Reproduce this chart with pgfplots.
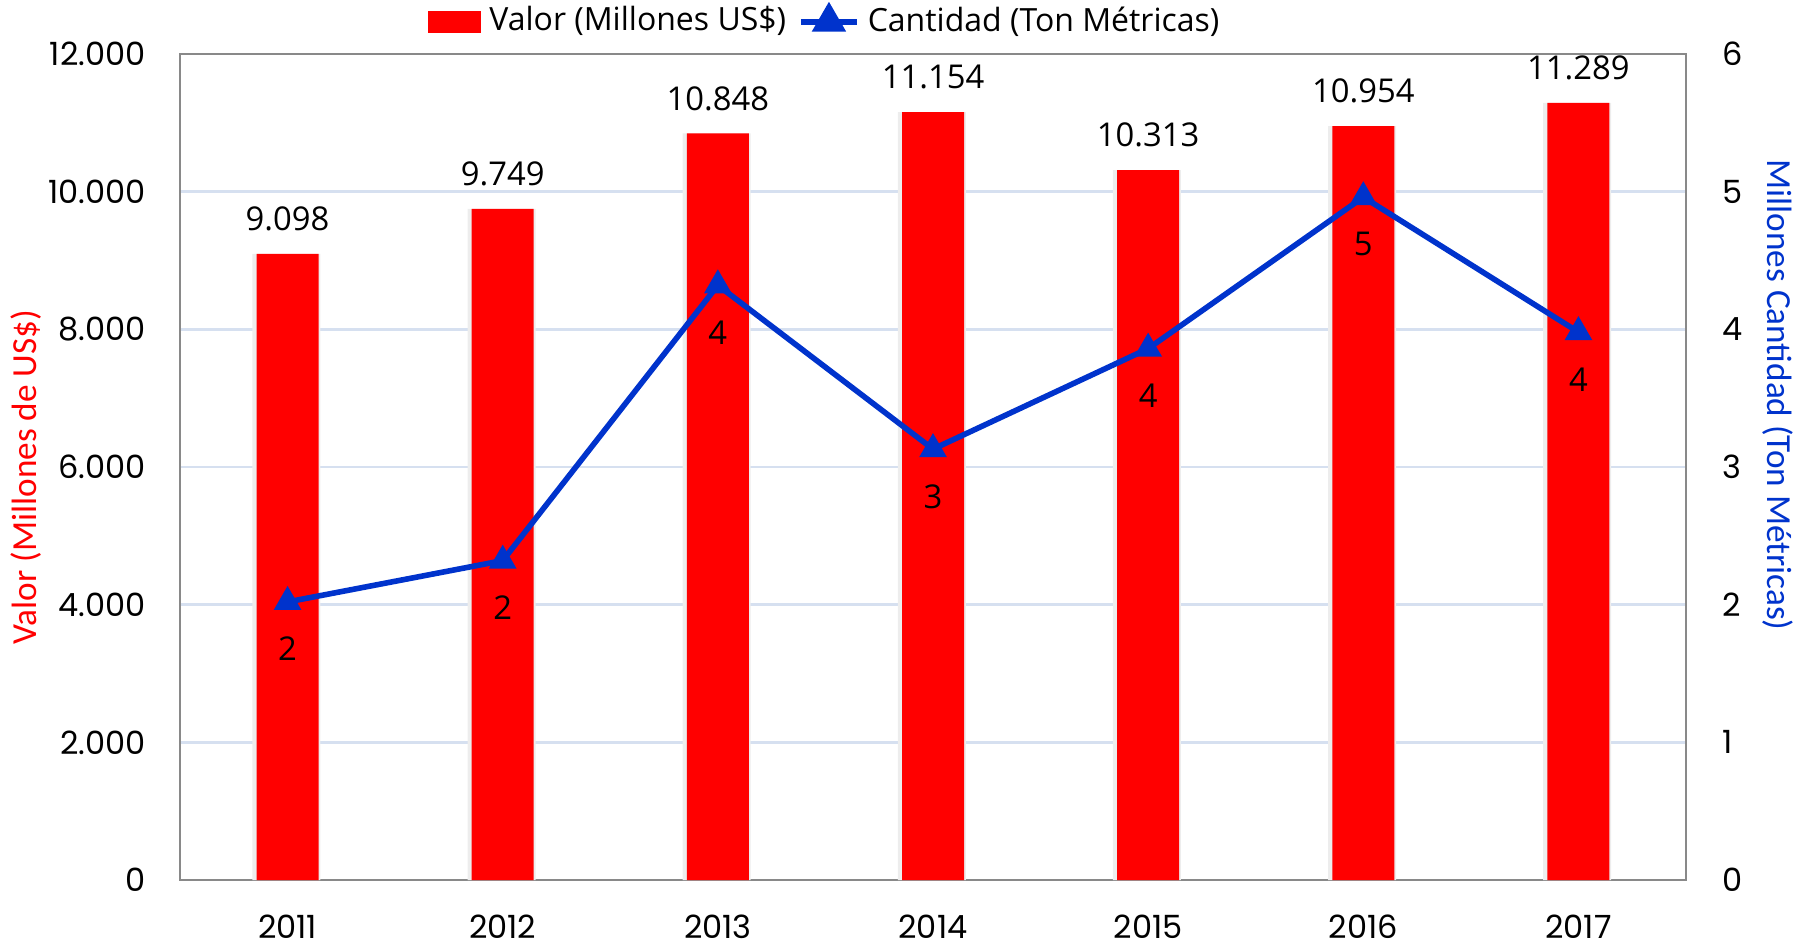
\documentclass[border=0pt]{standalone}
\usepackage{fontspec}
\setmainfont{Open Sans}
\newfontfamily\tickfont{Poppins}
\newfontfamily\titlefont{Carlito}
\usepackage{pgfplots}
\usepackage{pgfplotstable}
\pgfplotsset{compat=1.18}

\definecolor{barred}{RGB}{255,0,0}
\definecolor{lineblue}{RGB}{0,51,204}
\definecolor{gridc}{RGB}{214,224,240}
\definecolor{framec}{RGB}{137,137,137}

% valor: millones US$, cant: millones de toneladas
\pgfplotstableread{
x year valor cant
0 2011 9098 2.02
1 2012 9749 2.32
2 2013 10848 4.32
3 2014 11154 3.13
4 2015 10313 3.86
5 2016 10954 4.96
6 2017 11289 3.98
}\datos

\pgfplotsset{
  comun/.style={
    at={(45pt,16pt)}, anchor=south west,
    scale only axis, width=376.5pt, height=206.5pt,
    xmin=-0.5, xmax=6.5,
    major tick length=0pt,
    axis line style={framec, line width=0.7pt},
    tick label style={font=\tickfont\fontsize{8}{9}\selectfont, black},
    /pgf/number format/assume math mode=true,
    clip=false,
  },
}

\begin{document}
\begin{tikzpicture}
\path[use as bounding box] (0,0) rectangle (452.5pt,236pt);

\begin{axis}[
  comun,
  ymin=0, ymax=12000,
  xtick={0,...,6}, xticklabels={2011,2012,2013,2014,2015,2016,2017},
  ytick={0,2000,...,12000},
  scaled y ticks=false,
  /pgf/number format/1000 sep={.},
  ymajorgrids, grid style={gridc, line width=0.6pt},
  yticklabel style={inner sep=0pt, anchor=east, xshift=-8.4pt},
  xticklabel style={inner sep=0pt, anchor=north, yshift=-8.6pt},
  ylabel={Valor (Millones de US\$)},
  ylabel style={at={(rel axis cs:-0.1025,0.488)}, anchor=center,
    font=\titlefont\fontsize{8.8}{10}\selectfont, text=barred},
]
% sombra suave de las barras
\addplot[ybar, bar width=17pt, bar shift=-0.3pt, fill=black!7, draw=none,
  forget plot] table[x=x, y=valor] {\datos};
\addplot[ybar, bar width=15.5pt, fill=barred, draw=none,
  point meta=y,
  nodes near coords={\pgfmathprintnumber{\pgfplotspointmeta}},
  every node near coord/.append style={font=\fontsize{8.2}{9}\selectfont,
    text=black, inner sep=0pt, anchor=center, yshift=8.7pt},
] table[x=x, y=valor] {\datos};
\end{axis}

\begin{axis}[
  comun,
  ymin=0, ymax=6,
  ytick={0,...,6},
  axis y line*=right, axis x line=none,
  yticklabel style={inner sep=0pt, anchor=west, xshift=9pt},
  ylabel={Millones Cantidad (Ton Métricas)},
  ylabel style={at={(rel axis cs:1.0611,0.587)}, anchor=center, rotate=180,
    font=\titlefont\fontsize{8.8}{10}\selectfont, text=lineblue},
  legend columns=2,
  legend style={at={(rel axis cs:0.164,1.039)}, anchor=west,
    draw=none, fill=none, inner sep=0pt,
    font=\fontsize{8}{9}\selectfont,
    /tikz/every even column/.append style={column sep=1pt}},
]
\addlegendimage{legend image code/.code={
  \fill[barred] (0pt,-2.6pt) rectangle (13pt,2.6pt);}}
\addlegendentry{Valor (Millones US\$)}
\addplot[lineblue, line width=1.4pt, mark=triangle*, mark size=3.6pt,
  mark options={solid, fill=lineblue, line width=0.4pt},
  legend image code/.code={
    \draw[lineblue, line width=1.4pt] (0pt,0pt) -- (14pt,0pt);
    \fill[lineblue] (7pt,0pt) ++(90:3.6pt) -- ++(-120:6.2pt) -- ++(0:6.2pt) -- cycle;},
  point meta=y,
  nodes near coords={\pgfmathprintnumber[fixed, precision=0]{\pgfplotspointmeta}},
  every node near coord/.append style={font=\fontsize{8.2}{9}\selectfont,
    text=black, inner sep=0pt, anchor=center, yshift=-11.8pt},
] table[x=x, y=cant] {\datos};
\addlegendentry{Cantidad (Ton Métricas)}
\end{axis}
\end{tikzpicture}
\end{document}
